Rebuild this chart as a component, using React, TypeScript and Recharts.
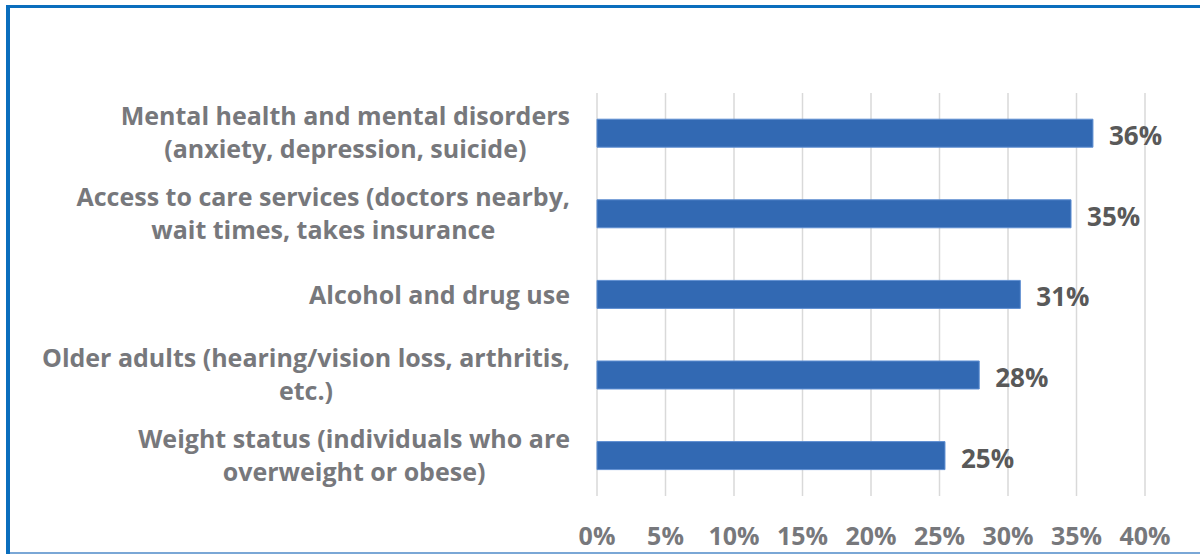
import { Bar, BarChart, CartesianGrid, LabelList, XAxis, YAxis } from "recharts";

const categories = [
  "Mental health and mental disorders\n(anxiety, depression, suicide)",
  "Access to care services (doctors nearby,\nwait times, takes insurance",
  "Alcohol and drug use",
  "Older adults (hearing/vision loss, arthritis,\netc.)",
  "Weight status (individuals who are\noverweight or obese)",
];
const shares = [36.2, 34.6, 30.9, 27.9, 25.4];
const xTicks = [0, 5, 10, 15, 20, 25, 30, 35, 40];

const FONT = '"Open Sans", "Noto Sans", sans-serif';
const LABEL_SIZE = 25;

const data = categories.map((label, i) => ({ label, value: shares[i] }));

let ctx: CanvasRenderingContext2D | null = null;
function textWidth(s: string, size: number) {
  if (!ctx) ctx = document.createElement("canvas").getContext("2d");
  if (!ctx) return s.length * size * 0.55;
  ctx.font = `bold ${size}px ${FONT}`;
  return ctx.measureText(s).width;
}

/** Multi-line category label: block right-aligned, lines centred within it. */
function CategoryTick({ x, y, payload }: any) {
  const lines = String(payload.value).split("\n");
  const widest = Math.max(...lines.map((l) => textWidth(l, LABEL_SIZE)));
  const cx = x - widest / 2;
  const first = lines.length === 1 ? 9 : -8;
  return (
    <text
      textAnchor="middle"
      fill="#77787c"
      fontFamily={FONT}
      fontWeight={700}
      fontSize={LABEL_SIZE}
    >
      {lines.map((l, i) => (
        <tspan key={i} x={cx} y={y + first + i * 33}>
          {l}
        </tspan>
      ))}
    </text>
  );
}

function PercentTick({ x, y, payload }: any) {
  return (
    <text
      x={x}
      y={y + 49}
      textAnchor="middle"
      fill="#77787c"
      fontFamily={FONT}
      fontWeight={700}
      fontSize={25}
    >
      {payload.value}%
    </text>
  );
}

function ValueLabel({ x, y, width, height, value }: any) {
  return (
    <text
      x={x + width + 16}
      y={y + height / 2 + 12}
      fill="#595959"
      fontFamily={FONT}
      fontWeight={700}
      fontSize={26}
    >
      {Math.round(value)}%
    </text>
  );
}

export default function App() {
  return (
    <div
      style={{
        position: "fixed",
        left: 0,
        top: 0,
        width: 1200,
        height: 554,
        background: "#fff",
        overflow: "hidden",
      }}
    >
      <div
        style={{
          position: "absolute",
          left: 6,
          top: 5,
          right: -10,
          bottom: -10,
          borderLeft: "4px solid #0a6ebd",
          borderTop: "3px solid #0a6ebd",
        }}
      />
      <div
        style={{
          position: "absolute",
          left: 10,
          right: 0,
          top: 552,
          height: 2,
          background: "#7aa7d6",
        }}
      />
      <div style={{ position: "absolute", left: 0, top: 0 }}>
        <BarChart
          width={1200}
          height={554}
          data={data}
          layout="vertical"
          margin={{ top: 93, right: 55, bottom: 0, left: 0 }}
          barCategoryGap="32.5%"
        >
          <CartesianGrid horizontal={false} stroke="#d9d9d9" strokeWidth={1.5} />
          <XAxis
            type="number"
            domain={[0, 40]}
            ticks={xTicks}
            height={58}
            axisLine={false}
            tickLine={false}
            tickSize={0}
            tickMargin={0}
            tick={<PercentTick />}
            interval={0}
          />
          <YAxis
            type="category"
            dataKey="label"
            width={597}
            axisLine={false}
            tickLine={false}
            tickSize={0}
            tickMargin={27}
            tick={<CategoryTick />}
            interval={0}
          />
          <Bar
            dataKey="value"
            fill="#3269b3"
            stroke="#5f8fd2"
            strokeWidth={1}
            isAnimationActive={false}
          >
            <LabelList dataKey="value" content={<ValueLabel />} />
          </Bar>
        </BarChart>
      </div>
    </div>
  );
}
